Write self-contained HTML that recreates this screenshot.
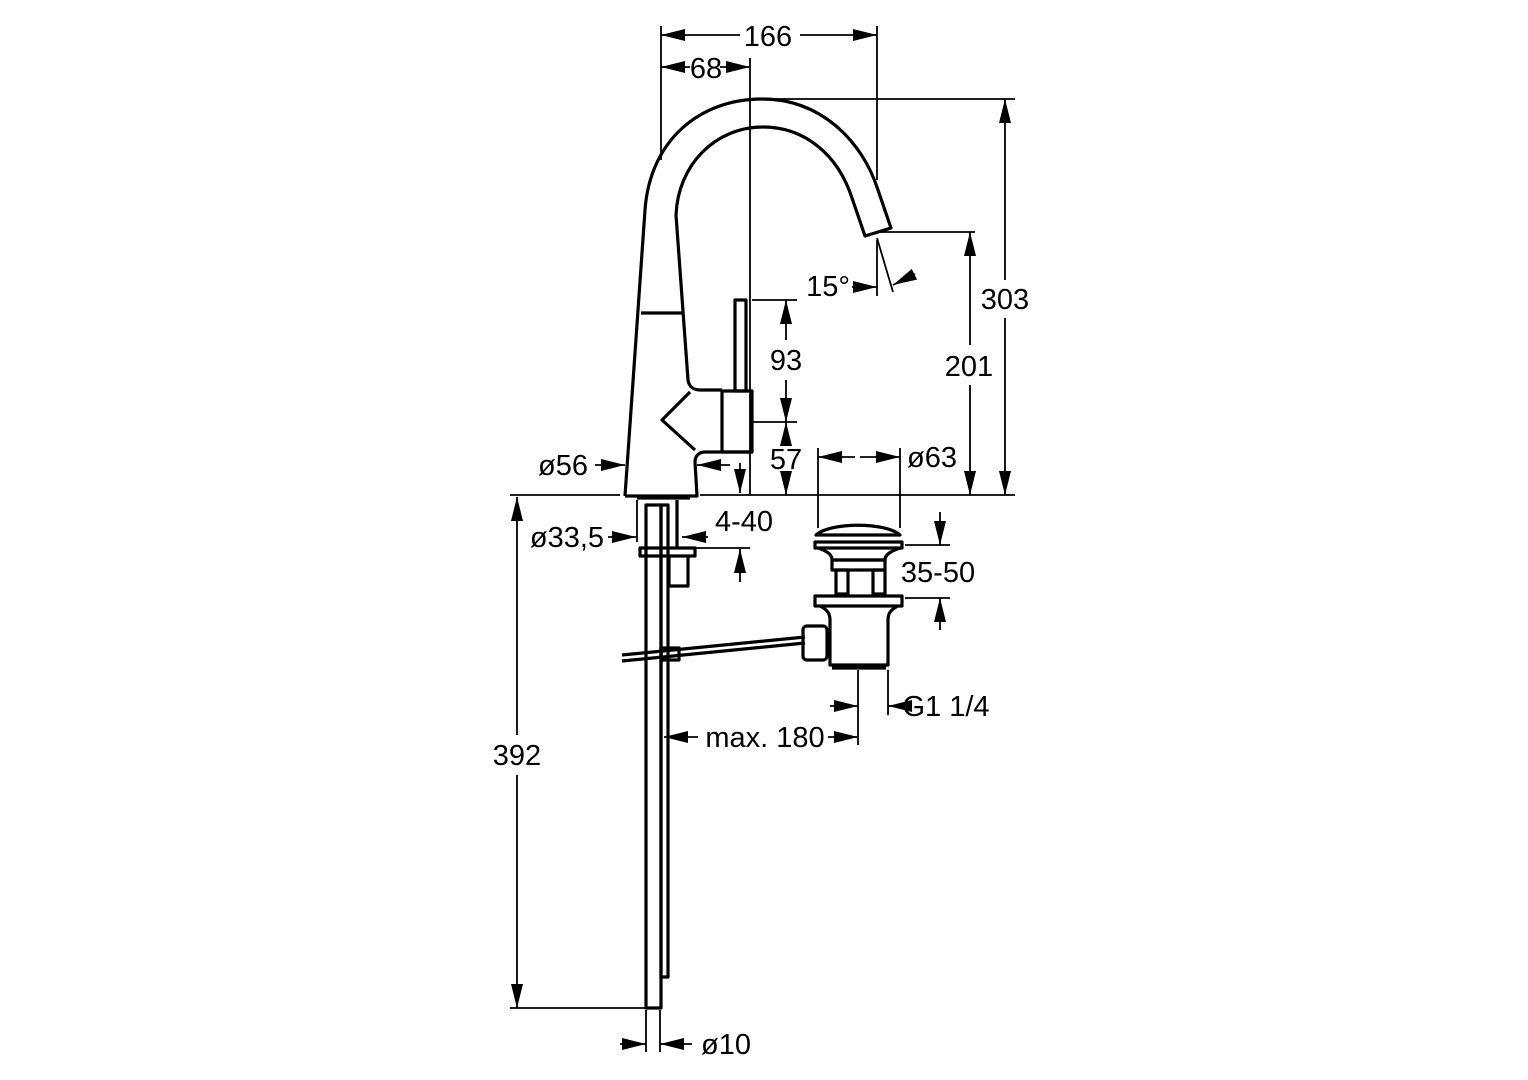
<!DOCTYPE html>
<html><head><meta charset="utf-8"><style>
html,body{margin:0;padding:0;background:#fff;}
svg{display:block;}
text{font-family:"Liberation Sans",sans-serif;font-size:29px;fill:#000;}
</style></head><body>
<svg width="1528" height="1080" viewBox="0 0 1528 1080" xmlns="http://www.w3.org/2000/svg">
<defs>
<marker id="a" viewBox="0 0 24 12" refX="24" refY="6" markerWidth="24" markerHeight="12" markerUnits="userSpaceOnUse" orient="auto"><path d="M0,0 L24,6 L0,12 z" fill="#000"/></marker>
</defs>
<g stroke="#000" stroke-width="1.8" fill="none">
<line x1="661" y1="26" x2="661" y2="160"/>
<line x1="877" y1="26" x2="877" y2="180"/>
<line x1="750" y1="58" x2="750" y2="495"/>
<line x1="750" y1="99" x2="1015" y2="99"/>
<line x1="878" y1="232" x2="975" y2="232"/>
<line x1="510" y1="495" x2="620" y2="495"/>
<line x1="700" y1="495" x2="1015" y2="495"/>
<line x1="752" y1="300" x2="797" y2="300"/>
<line x1="752" y1="422" x2="797" y2="422"/>
<line x1="818" y1="448" x2="818" y2="528"/>
<line x1="900" y1="448" x2="900" y2="528"/>
<line x1="905" y1="545" x2="950" y2="545"/>
<line x1="905" y1="598" x2="950" y2="598"/>
<line x1="858" y1="670" x2="858" y2="745"/>
<line x1="888" y1="670" x2="888" y2="715"/>
<line x1="510" y1="1008" x2="646" y2="1008"/>
<line x1="646" y1="1010" x2="646" y2="1052"/>
<line x1="660" y1="1010" x2="660" y2="1052"/>
<line x1="637" y1="500" x2="637" y2="542"/>
<line x1="690" y1="548" x2="750" y2="548"/>
<line x1="877" y1="240" x2="877" y2="296"/>
<line x1="877" y1="238" x2="893" y2="292"/>
<line x1="740" y1="35" x2="661" y2="35" marker-end="url(#a)"/>
<line x1="800" y1="35" x2="877" y2="35" marker-end="url(#a)"/>
<line x1="690" y1="67" x2="661" y2="67" marker-end="url(#a)"/>
<line x1="720" y1="67" x2="750" y2="67" marker-end="url(#a)"/>
<line x1="1005" y1="280" x2="1005" y2="99" marker-end="url(#a)"/>
<line x1="1005" y1="318" x2="1005" y2="495" marker-end="url(#a)"/>
<line x1="970" y1="345" x2="970" y2="232" marker-end="url(#a)"/>
<line x1="970" y1="385" x2="970" y2="495" marker-end="url(#a)"/>
<line x1="786" y1="340" x2="786" y2="300" marker-end="url(#a)"/>
<line x1="786" y1="380" x2="786" y2="422" marker-end="url(#a)"/>
<line x1="786" y1="442" x2="786" y2="422" marker-end="url(#a)"/>
<line x1="786" y1="476" x2="786" y2="495" marker-end="url(#a)"/>
<line x1="852" y1="287" x2="877" y2="287" marker-end="url(#a)"/>
<line x1="915" y1="274" x2="893" y2="285" marker-end="url(#a)"/>
<line x1="595" y1="465" x2="625" y2="465" marker-end="url(#a)"/>
<line x1="730" y1="465" x2="697" y2="465" marker-end="url(#a)"/>
<line x1="740" y1="463" x2="740" y2="493" marker-end="url(#a)"/>
<line x1="855" y1="457" x2="818" y2="457" marker-end="url(#a)"/>
<line x1="860" y1="457" x2="900" y2="457" marker-end="url(#a)"/>
<line x1="940" y1="512" x2="940" y2="545" marker-end="url(#a)"/>
<line x1="940" y1="630" x2="940" y2="598" marker-end="url(#a)"/>
<line x1="830" y1="706" x2="858" y2="706" marker-end="url(#a)"/>
<line x1="902" y1="706" x2="888" y2="706" marker-end="url(#a)"/>
<line x1="698" y1="737" x2="664" y2="737" marker-end="url(#a)"/>
<line x1="828" y1="737" x2="858" y2="737" marker-end="url(#a)"/>
<line x1="517" y1="735" x2="517" y2="497" marker-end="url(#a)"/>
<line x1="517" y1="775" x2="517" y2="1008" marker-end="url(#a)"/>
<line x1="620" y1="1044" x2="646" y2="1044" marker-end="url(#a)"/>
<line x1="692" y1="1044" x2="660" y2="1044" marker-end="url(#a)"/>
<line x1="608" y1="537" x2="636" y2="537" marker-end="url(#a)"/>
<line x1="708" y1="537" x2="682" y2="537" marker-end="url(#a)"/>
<line x1="740" y1="582" x2="740" y2="549" marker-end="url(#a)"/>
</g>
<g stroke="#000" stroke-width="3.2" fill="none" stroke-linejoin="round">
<path d="M625,496 L645,210 C650,140 700,99 762,99 C820,99 862,140 878,190 L891,228 L865,236 L852,198 C838,155 805,127 763,127 C715,127 678,165 676,215 L688,380 C689,387 694,390 700,390 L722,390"/>
<path d="M690,392 L662,420 L695,450"/>
<path d="M625,496 L697,496 L695,462 C695,456 699,452 705,452 L752,452"/>
<rect x="722" y="391" width="30" height="61"/>
<rect x="735" y="300" width="11" height="91"/>
<line x1="641" y1="313" x2="682" y2="313"/>
<rect x="646" y="505" width="15" height="503"/>
<rect x="661" y="505" width="7" height="472"/>
<path d="M637,498 L690,498 M677,500 L677,548 M640,548 L695,548 L695,556 L640,556 Z"/>
<path d="M669,556 L669,586 L688,586 L688,556"/>
<path d="M622,655 L805,637 M622,661 L805,643"/>
<rect x="661" y="648" width="18" height="12"/>
<path d="M816,535 C830,522 886,522 900,535 Z"/>
<rect x="815" y="542" width="87" height="6"/>
<path d="M818,548 C830,552 832,556 832,560 L885,560 C885,556 888,552 900,548"/>
<rect x="832" y="560" width="53" height="10"/>
<rect x="836" y="570" width="12" height="24"/>
<rect x="873" y="570" width="12" height="24"/>
<rect x="815" y="596" width="87" height="10"/>
<path d="M820,606 C828,610 830,614 830,620 L830,665 L888,665 L888,620 C888,614 890,610 898,606"/>
<line x1="832" y1="668" x2="886" y2="668"/>
<rect x="803" y="626" width="24" height="34" rx="4"/>
</g>
<g text-anchor="middle">
<text x="768" y="46">166</text>
<text x="706" y="78">68</text>
<text x="1005" y="309">303</text>
<text x="969" y="376">201</text>
<text x="786" y="370">93</text>
<text x="786" y="469">57</text>
<text x="828" y="296">15°</text>
<text x="563" y="475">ø56</text>
<text x="932" y="467">ø63</text>
<text x="744" y="531">4-40</text>
<text x="567" y="547">ø33,5</text>
<text x="938" y="582">35-50</text>
<text x="946" y="716">G1 1/4</text>
<text x="765" y="747">max. 180</text>
<text x="517" y="765">392</text>
<text x="726" y="1054">ø10</text>
</g>
</svg>
</body></html>
